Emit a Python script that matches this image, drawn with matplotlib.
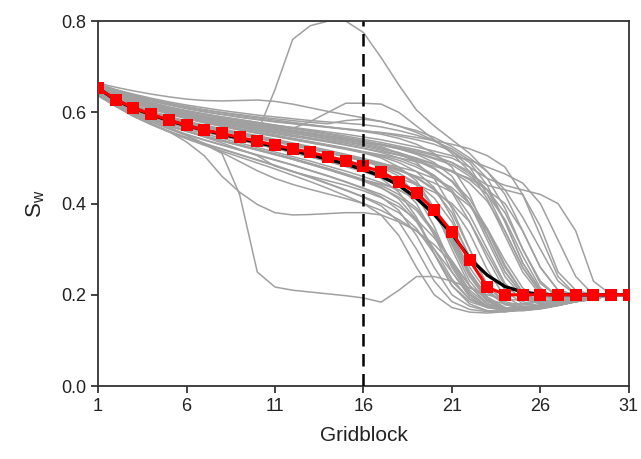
import matplotlib
matplotlib.use("Agg")
import matplotlib.pyplot as plt

plt.rcParams['font.family'] = ['Liberation Sans', 'DejaVu Sans']
plt.rcParams['mathtext.default'] = 'regular'

# gridblock index
gridblock = list(range(1, 32))

# reference (true) saturation profile
truth = [.653, .627, .609, .595, .582, .571, .561, .552, .543, .534, .525, .516, .507, .497, .487,
         .474, .46, .44, .412, .376, .334, .28, .243, .218, .206, .201, .2, .2, .2, .2, .2]

# ensemble mean (red squares)
mean = [.653, .628, .610, .596, .583, .572, .561, .554, .545, .537, .528, .520, .512, .503, .494,
        .482, .470, .448, .423, .386, .338, .276, .217, .200, .200, .200, .200, .200, .200, .200, .200]

# ensemble members (grey)
members = [
    [.664, .655, .647, .640, .634, .629, .626, .625, .626, .627, .624, .618, .610, .602, .595, .588, .580, .570, .560, .545, .525, .500, .470, .430, .370, .300, .230, .200, .195, .200, .200],
    [.655, .638, .624, .613, .603, .594, .586, .578, .571, .555, .650, .760, .790, .800, .800, .775, .720, .660, .605, .570, .540, .510, .470, .420, .340, .260, .210, .200, .200, .200, .200],
    [.655, .640, .627, .616, .606, .598, .591, .585, .579, .574, .569, .565, .580, .600, .620, .620, .618, .600, .570, .540, .510, .470, .410, .330, .250, .200, .185, .190, .195, .200, .200],
    [.640, .620, .600, .585, .568, .550, .530, .510, .420, .250, .217, .210, .206, .202, .198, .193, .184, .210, .240, .240, .230, .215, .200, .190, .188, .190, .192, .195, .198, .200, .200],
    [.636, .613, .593, .575, .558, .535, .505, .460, .425, .398, .380, .375, .376, .378, .380, .380, .375, .360, .340, .310, .270, .220, .190, .180, .180, .185, .190, .195, .200, .200, .200],
    [.640, .620, .601, .586, .572, .559, .546, .533, .519, .505, .482, .470, .460, .450, .440, .428, .413, .393, .365, .325, .275, .220, .180, .170, .172, .178, .185, .190, .195, .200, .200],
    [.638, .616, .597, .580, .564, .549, .532, .512, .492, .472, .455, .442, .431, .421, .411, .400, .385, .365, .340, .300, .250, .200, .175, .168, .170, .175, .182, .190, .195, .200, .200],
    [.662, .648, .636, .626, .617, .609, .602, .596, .590, .585, .580, .576, .572, .568, .564, .560, .555, .548, .540, .530, .515, .490, .440, .360, .270, .210, .190, .190, .195, .200, .200],
    [.661, .647, .635, .625, .616, .608, .601, .595, .589, .584, .579, .575, .571, .567, .563, .559, .556, .551, .545, .538, .530, .520, .505, .480, .420, .330, .240, .200, .195, .200, .200],
    [.662, .649, .638, .628, .620, .612, .605, .599, .593, .588, .583, .578, .573, .568, .563, .558, .552, .543, .530, .510, .480, .420, .330, .250, .200, .185, .185, .190, .195, .200, .200],
    [.660, .644, .630, .618, .608, .599, .591, .584, .577, .571, .565, .559, .553, .547, .541, .535, .528, .520, .508, .490, .460, .400, .320, .240, .195, .180, .180, .185, .190, .200, .200],
    [.659, .643, .629, .617, .607, .598, .590, .583, .576, .570, .564, .558, .552, .546, .540, .534, .530, .523, .515, .505, .490, .470, .430, .360, .270, .210, .190, .190, .195, .200, .200],
    [.658, .642, .628, .616, .606, .597, .589, .582, .575, .569, .563, .557, .551, .545, .539, .533, .525, .510, .490, .455, .390, .300, .220, .185, .175, .175, .180, .185, .190, .200, .200],
    [.660, .645, .632, .621, .611, .603, .596, .590, .584, .578, .572, .566, .560, .554, .548, .541, .534, .526, .518, .508, .500, .480, .455, .440, .430, .420, .400, .340, .230, .200, .200],
    [.659, .644, .631, .620, .610, .602, .595, .588, .582, .576, .570, .564, .558, .552, .545, .538, .530, .522, .512, .500, .490, .465, .440, .430, .420, .350, .250, .210, .200, .200, .200],
    [.657, .641, .628, .617, .607, .599, .592, .585, .579, .573, .567, .561, .555, .549, .543, .536, .529, .520, .510, .498, .485, .460, .430, .400, .340, .260, .210, .200, .200, .200, .200],
    [.660, .646, .633, .622, .612, .604, .597, .590, .584, .578, .572, .567, .562, .557, .552, .546, .540, .532, .524, .515, .505, .495, .480, .465, .445, .400, .320, .240, .200, .200, .200],
    [.657, .638, .622, .609, .598, .588, .579, .571, .563, .556, .549, .542, .535, .528, .521, .513, .503, .490, .470, .435, .370, .280, .210, .180, .172, .172, .178, .185, .190, .200, .200],
    [.656, .637, .621, .608, .597, .587, .578, .570, .562, .555, .548, .541, .534, .527, .520, .512, .505, .495, .480, .460, .425, .360, .280, .210, .180, .175, .178, .185, .190, .200, .200],
    [.655, .636, .620, .607, .596, .586, .577, .569, .561, .554, .547, .540, .533, .526, .519, .511, .500, .480, .450, .390, .300, .220, .180, .170, .170, .175, .180, .187, .193, .200, .200],
    [.658, .639, .623, .610, .599, .589, .580, .572, .564, .557, .550, .543, .536, .529, .522, .514, .507, .500, .492, .482, .470, .455, .430, .380, .300, .230, .195, .190, .195, .200, .200],
    [.654, .632, .614, .600, .588, .578, .569, .561, .553, .545, .537, .529, .521, .513, .504, .495, .483, .467, .440, .390, .310, .230, .185, .170, .168, .170, .177, .185, .192, .200, .200],
    [.653, .631, .613, .599, .587, .577, .568, .560, .552, .544, .536, .528, .520, .512, .503, .494, .486, .474, .456, .430, .380, .300, .220, .180, .170, .172, .178, .186, .193, .200, .200],
    [.652, .630, .612, .598, .586, .576, .567, .559, .551, .543, .535, .527, .519, .511, .502, .493, .480, .460, .420, .350, .260, .200, .175, .168, .170, .175, .180, .188, .194, .200, .200],
    [.655, .633, .615, .601, .589, .579, .570, .562, .554, .546, .538, .530, .522, .514, .505, .496, .488, .480, .470, .455, .435, .400, .340, .260, .205, .185, .185, .190, .195, .200, .200],
    [.650, .626, .607, .592, .579, .568, .558, .549, .540, .531, .522, .513, .504, .494, .484, .473, .460, .440, .400, .330, .250, .195, .172, .165, .167, .172, .180, .188, .194, .200, .200],
    [.649, .625, .606, .591, .578, .567, .557, .548, .539, .530, .521, .512, .503, .493, .483, .472, .462, .447, .425, .390, .330, .250, .195, .172, .168, .172, .180, .188, .194, .200, .200],
    [.651, .627, .608, .593, .580, .569, .559, .550, .541, .532, .523, .514, .505, .495, .485, .474, .455, .425, .370, .290, .220, .185, .172, .170, .172, .177, .183, .190, .195, .200, .200],
    [.650, .627, .609, .594, .581, .570, .560, .551, .542, .533, .524, .515, .506, .496, .486, .475, .465, .455, .442, .425, .400, .360, .290, .220, .190, .180, .182, .188, .195, .200, .200],
    [.647, .621, .601, .585, .571, .559, .548, .538, .528, .518, .508, .498, .487, .476, .464, .452, .436, .410, .365, .290, .220, .180, .165, .163, .166, .172, .180, .188, .194, .200, .200],
    [.648, .622, .602, .586, .572, .560, .549, .539, .529, .519, .509, .499, .488, .477, .465, .453, .440, .420, .390, .340, .270, .210, .180, .168, .168, .173, .180, .188, .194, .200, .200],
    [.646, .620, .600, .584, .570, .558, .547, .537, .527, .517, .507, .497, .486, .475, .463, .451, .443, .430, .410, .380, .330, .260, .205, .180, .172, .174, .180, .188, .194, .200, .200],
    [.644, .617, .596, .579, .564, .551, .539, .528, .517, .506, .495, .484, .472, .460, .447, .433, .415, .385, .330, .260, .200, .175, .165, .163, .167, .173, .180, .188, .194, .200, .200],
    [.645, .618, .597, .580, .565, .552, .540, .529, .518, .507, .496, .485, .473, .461, .448, .434, .420, .400, .360, .300, .235, .190, .172, .168, .170, .175, .182, .189, .195, .200, .200],
    [.642, .614, .592, .574, .558, .544, .531, .519, .507, .495, .483, .470, .457, .443, .429, .414, .395, .360, .300, .230, .185, .168, .163, .165, .170, .175, .182, .189, .195, .200, .200],
    [.643, .615, .593, .575, .559, .545, .532, .520, .508, .496, .484, .471, .458, .444, .430, .415, .400, .380, .345, .290, .230, .190, .175, .170, .172, .177, .183, .190, .195, .200, .200],
    [.641, .613, .591, .573, .557, .542, .528, .515, .502, .489, .476, .462, .448, .433, .417, .400, .375, .330, .260, .200, .172, .162, .160, .163, .168, .175, .182, .189, .195, .200, .200],
    [.656, .639, .625, .613, .603, .594, .586, .579, .572, .566, .560, .554, .548, .542, .536, .530, .522, .512, .498, .478, .448, .400, .330, .250, .200, .180, .180, .187, .193, .200, .200],
    [.662, .650, .640, .631, .623, .616, .610, .604, .599, .594, .590, .586, .582, .579, .576, .573, .568, .560, .550, .537, .520, .495, .455, .390, .300, .225, .195, .192, .196, .200, .200],
    [.661, .648, .637, .628, .620, .613, .606, .600, .595, .590, .586, .582, .578, .575, .582, .585, .580, .570, .556, .538, .515, .480, .420, .340, .260, .205, .190, .192, .196, .200, .200],
    [.658, .641, .626, .614, .604, .595, .587, .580, .573, .566, .560, .554, .548, .541, .535, .528, .520, .511, .500, .487, .470, .445, .405, .340, .260, .205, .185, .188, .194, .200, .200],
    [.657, .640, .625, .613, .602, .593, .585, .577, .570, .563, .557, .550, .543, .536, .529, .521, .512, .500, .485, .462, .430, .375, .300, .225, .185, .175, .178, .186, .193, .200, .200],
    [.654, .634, .617, .603, .591, .581, .572, .564, .556, .549, .541, .533, .525, .517, .508, .499, .489, .476, .458, .432, .395, .335, .255, .195, .175, .172, .177, .185, .192, .200, .200],
    [.653, .632, .615, .601, .589, .579, .570, .562, .554, .546, .538, .530, .522, .513, .504, .494, .482, .466, .445, .412, .360, .285, .210, .178, .170, .172, .178, .186, .193, .200, .200],
    [.652, .631, .614, .600, .588, .578, .569, .561, .553, .545, .537, .529, .521, .512, .503, .493, .484, .472, .460, .445, .425, .395, .345, .275, .215, .188, .184, .189, .195, .200, .200],
    [.651, .629, .611, .597, .584, .573, .563, .554, .545, .536, .527, .518, .509, .499, .489, .478, .466, .450, .426, .388, .325, .245, .190, .170, .166, .170, .177, .185, .192, .200, .200],
    [.649, .626, .607, .592, .579, .568, .558, .548, .539, .530, .521, .512, .502, .492, .481, .470, .457, .440, .416, .378, .315, .240, .188, .168, .165, .169, .176, .185, .192, .200, .200],
    [.648, .623, .604, .589, .576, .564, .553, .543, .533, .523, .513, .503, .493, .482, .471, .459, .446, .430, .408, .375, .320, .250, .195, .172, .167, .170, .177, .185, .192, .200, .200],
    [.646, .621, .601, .585, .571, .559, .548, .538, .528, .518, .508, .497, .486, .474, .462, .449, .434, .414, .385, .335, .265, .205, .175, .166, .166, .170, .177, .185, .192, .200, .200],
    [.655, .637, .622, .610, .599, .590, .582, .574, .567, .560, .553, .547, .541, .535, .528, .521, .514, .506, .497, .486, .472, .452, .420, .365, .285, .215, .188, .188, .194, .200, .200],
    [.656, .638, .623, .611, .600, .591, .583, .576, .569, .562, .556, .550, .544, .538, .532, .525, .517, .507, .494, .476, .450, .410, .345, .265, .205, .182, .182, .188, .194, .200, .200],
]

fig = plt.figure(figsize=(6.41, 4.59), dpi=100)
ax = fig.add_axes([0.153, 0.159, 0.828, 0.795])

for m in members:
    ax.plot(gridblock, m, color='#a0a0a0', lw=1.1, zorder=1)

ax.plot(gridblock, truth, color='black', lw=2.4, zorder=3)
ax.plot(gridblock, mean, color='#ff0000', lw=2.2, marker='s', markersize=8,
        markeredgewidth=0, zorder=4)
ax.axvline(16, color='black', lw=1.8, ls=(0, (5, 3)), zorder=5)

ax.set_xlim(1, 31)
ax.set_ylim(0, 0.8)
ax.set_xticks([1, 6, 11, 16, 21, 26, 31])
ax.set_yticks([0.0, 0.2, 0.4, 0.6, 0.8])
ax.set_yticklabels(['0.0', '0.2', '0.4', '0.6', '0.8'])
ax.tick_params(direction='out', length=5, width=1.2, labelsize=13, colors='#222222',
               top=False, right=False)
for s in ax.spines.values():
    s.set_linewidth(1.3)
    s.set_color('#333333')

ax.set_xlabel('Gridblock', fontsize=15, color='#222222', labelpad=8)
ax.set_ylabel('S$_w$', fontsize=16, color='#222222', labelpad=10)

fig.savefig('out.png', dpi=100)
